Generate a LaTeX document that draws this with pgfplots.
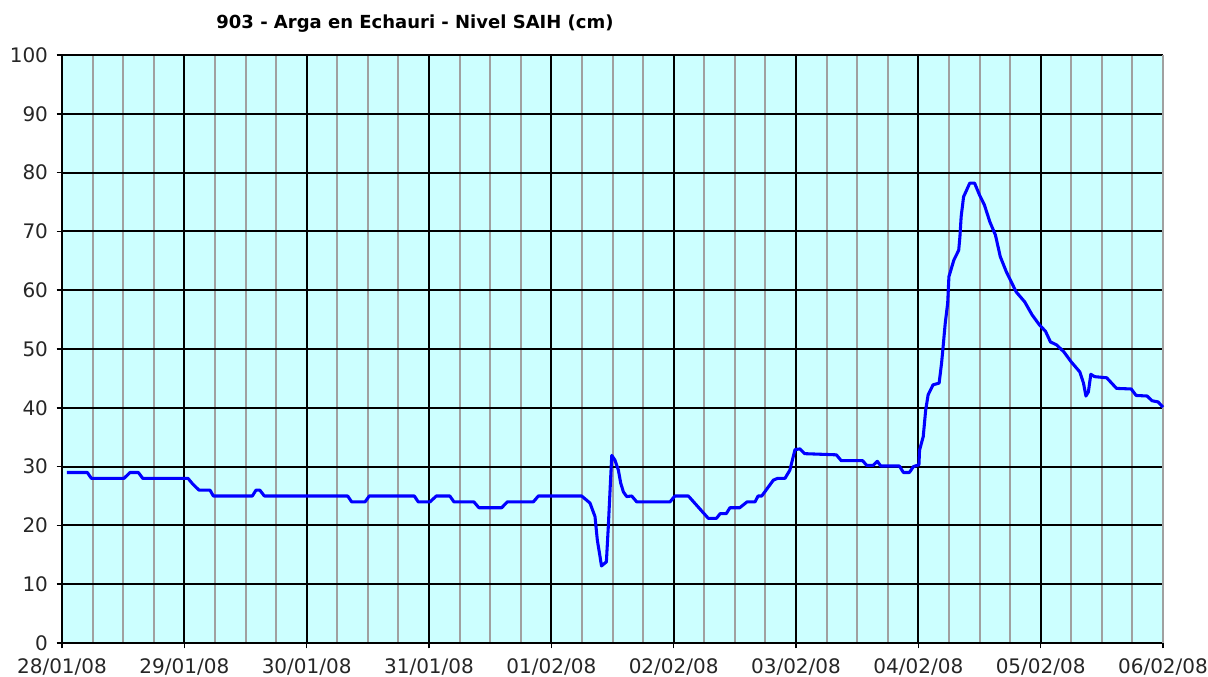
\documentclass[border=0pt]{standalone}
\usepackage{fontspec}
\setmainfont{DejaVu Sans}
\usepackage{pgfplots}
\pgfplotsset{compat=1.18}
\definecolor{bgcyan}{RGB}{204,255,255}
\definecolor{mgray}{RGB}{160,160,160}
\begin{document}
\begin{tikzpicture}[x=1pt,y=1pt]
\useasboundingbox (0,0) rectangle (906,507.75);
\begin{axis}[
  at={(46.5pt,25.5pt)}, anchor=south west,
  scale only axis, width=825.75pt, height=441pt,
  xmin=0, xmax=9, ymin=0, ymax=100,
  axis x line*=bottom, axis y line*=left,
  axis line style={black, line width=1.2pt, -},
  axis background/.style={fill=bgcyan},
  xtick={0,1,...,8},
  xticklabels={28/01/08,29/01/08,30/01/08,31/01/08,01/02/08,02/02/08,03/02/08,04/02/08,05/02/08},
  extra x ticks={9},
  extra x tick labels={06/02/08},
  extra x tick style={grid=major, major grid style={draw=mgray, line width=1.5pt}},
  minor xtick={0.25,0.5,0.75,1.25,1.5,1.75,2.25,2.5,2.75,3.25,3.5,3.75,4.25,4.5,4.75,5.25,5.5,5.75,6.25,6.5,6.75,7.25,7.5,7.75,8.25,8.5,8.75},
  ytick={0,10,...,100},
  tick align=outside,
  major tick length=4pt,
  minor tick length=0pt,
  tick style={black, line width=1.2pt},
  grid=both,
  minor grid style={draw=mgray, line width=1.5pt},
  major grid style={draw=black, line width=1.4pt},
  /pgf/number format/assume math mode=true,
  ticklabel style={font=\fontsize{15}{17}\selectfont, text=black!85},
  xticklabel style={yshift=-4pt},
  yticklabel style={xshift=-3pt},
  clip=false,
]
\addplot[blue, line width=2.3pt, line join=round] coordinates {
(0.04,29) (0.207,29) (0.24,28) (0.507,28) (0.556,29) (0.624,29) (0.66,28)
(1.03,28) (1.07,27) (1.12,26) (1.21,26) (1.237,25) (1.556,25) (1.586,26)
(1.617,26) (1.654,25) (2.335,25) (2.368,24) (2.477,24) (2.512,25) (2.88,25)
(2.912,24) (3.008,24) (3.06,25) (3.17,25) (3.204,24) (3.367,24) (3.408,23)
(3.594,23) (3.64,24) (3.853,24) (3.894,25) (4.248,25) (4.316,23.8) (4.357,21.5)
(4.376,17.5) (4.398,14.7) (4.41,13.1) (4.45,13.8) (4.466,19.9) (4.48,26.0)
(4.494,31.9) (4.52,31.1) (4.548,29.4) (4.567,27.2) (4.589,25.7) (4.616,24.9)
(4.657,25) (4.698,24) (4.97,24) (5.01,25) (5.12,25) (5.283,21.2) (5.35,21.2)
(5.38,22) (5.43,22) (5.46,23) (5.54,23) (5.6,24) (5.665,24) (5.69,25) (5.72,25)
(5.815,27.7) (5.85,28) (5.91,28) (5.95,29.4) (5.992,32.9) (6.033,33) (6.07,32.2)
(6.33,32) (6.37,31) (6.545,31) (6.578,30.2) (6.63,30.2) (6.665,30.9) (6.693,30.1)
(6.845,30.1) (6.878,29) (6.927,29) (6.96,30) (7.005,30.3) (7.01,32.8) (7.04,35.1)
(7.06,39.6) (7.08,42.2) (7.12,43.9) (7.17,44.2) (7.19,47.6) (7.20,49.8) (7.22,54.4)
(7.24,57.8) (7.25,62.3) (7.29,65.1) (7.33,66.8) (7.34,69.1) (7.35,72.5) (7.37,75.9)
(7.39,76.8) (7.42,78.2) (7.46,78.2) (7.50,76.2) (7.54,74.5) (7.585,71.6) (7.63,69.4)
(7.67,65.7) (7.72,63.1) (7.76,61.4) (7.80,59.7) (7.87,58.0) (7.93,55.8) (7.99,54.1)
(8.04,53.0) (8.08,51.2) (8.13,50.7) (8.19,49.5) (8.25,47.8) (8.32,46.1) (8.35,44.2)
(8.37,42.0) (8.39,42.7) (8.41,45.7) (8.44,45.3) (8.54,45.1) (8.62,43.3) (8.74,43.2)
(8.78,42.1) (8.87,42.0) (8.91,41.2) (8.96,41.0) (9.0,40.1)
};
\end{axis}
\node[font=\bfseries\fontsize{13.5}{16}\selectfont, anchor=center] at (311.25,489.75) {903 - Arga en Echauri - Nivel SAIH (cm)};
\end{tikzpicture}
\end{document}
